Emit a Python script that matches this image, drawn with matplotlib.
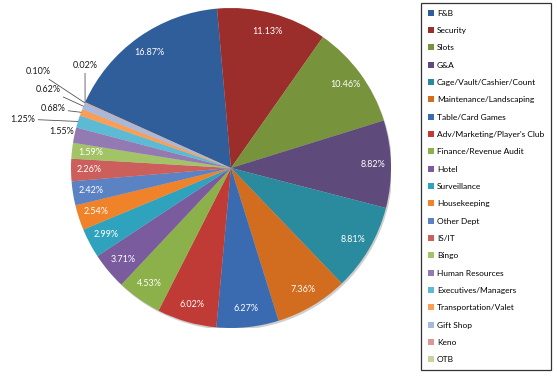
import numpy as np
import matplotlib
matplotlib.use("Agg")
import matplotlib.pyplot as plt
from matplotlib.patches import Patch, Circle

plt.rcParams['font.family'] = ['Lato', 'DejaVu Sans']

categories = ["F&B", "Security", "Slots", "G&A", "Cage/Vault/Cashier/Count",
              "Maintenance/Landscaping", "Table/Card Games", "Adv/Marketing/Player's Club",
              "Finance/Revenue Audit", "Hotel", "Surveillance", "Housekeeping",
              "Other Dept", "IS/IT", "Bingo", "Human Resources", "Executives/Managers",
              "Transportation/Valet", "Gift Shop", "Keno", "OTB"]
values = [16.87, 11.13, 10.46, 8.82, 8.81, 7.36, 6.27, 6.02, 4.53, 3.71, 2.99,
          2.54, 2.42, 2.26, 1.59, 1.55, 1.25, 0.68, 0.62, 0.10, 0.02]
colors = ["#2F5E9B", "#9B2D2A", "#77933C", "#5F4A7C", "#2A8A9E", "#D26C1E",
          "#3A6BB0", "#C03A36", "#8CB04A", "#7A5B9E", "#2FA3BE", "#F0822A",
          "#5B82C3", "#CC5F5C", "#A3C466", "#947AB3", "#5DBAD4", "#F99E56",
          "#A5B8DD", "#D99795", "#C4D5A0"]

# outside label positions (in pie radius units) for the smallest slices
outside_pos = {15: (-1.056, 0.231), 16: (-1.30, 0.306), 17: (-1.1125, 0.369),
               18: (-1.144, 0.4875), 19: (-1.206, 0.60), 20: (-0.9125, 0.6375)}
leader = {16, 17, 18, 19, 20}

W, H = 557, 376
fig = plt.figure(figsize=(W / 100, H / 100), dpi=100)
fig.patch.set_facecolor("white")
cx, cy, R = 231, 168, 160
ax = fig.add_axes([(cx - R) / W, (H - cy - R) / H, 2 * R / W, 2 * R / H])

# soft shadow
ax.add_patch(Circle((0.008, -0.012), 1.0, facecolor='#cfcfcf', edgecolor='none', zorder=0))

start = 95 + 360 * values[0] / 100.0
wedges, _ = ax.pie(values, colors=colors, startangle=start, counterclock=False,
                   radius=1, wedgeprops=dict(linewidth=0, zorder=1))
ax.set_xlim(-1, 1)
ax.set_ylim(-1, 1)
ax.set_aspect('equal')
ax.axis('off')

for i, w in enumerate(wedges):
    mid = np.deg2rad((w.theta1 + w.theta2) / 2)
    txt = f"{values[i]:.2f}%"
    if i in outside_pos:
        tx, ty = outside_pos[i]
        if i in leader:
            ax.annotate(txt, xy=(np.cos(mid), np.sin(mid)), xytext=(tx, ty),
                        ha='center', va='center', fontsize=6.5, color='#1a1a1a',
                        annotation_clip=False,
                        arrowprops=dict(arrowstyle='-', lw=0.6, color='#555555',
                                        shrinkA=0, shrinkB=0))
        else:
            ax.text(tx, ty, txt, ha='center', va='center', fontsize=6.5, color='#1a1a1a')
    else:
        r = 0.885
        ax.text(r * np.cos(mid), r * np.sin(mid), txt, ha='center', va='center',
                fontsize=6.5, color='white', zorder=3)

handles = [Patch(facecolor=c, edgecolor='none') for c in colors]
leg = fig.legend(handles, categories, loc='upper left',
                 bbox_to_anchor=(421 / W, 1 - 3 / H), borderaxespad=0,
                 fontsize=6.0, frameon=True, fancybox=False,
                 handlelength=0.75, handleheight=0.75, handletextpad=0.35,
                 labelspacing=1.24, borderpad=0.8)
leg.get_frame().set_edgecolor('black')
leg.get_frame().set_linewidth(0.9)

fig.savefig("out.png", dpi=100, facecolor="white")
